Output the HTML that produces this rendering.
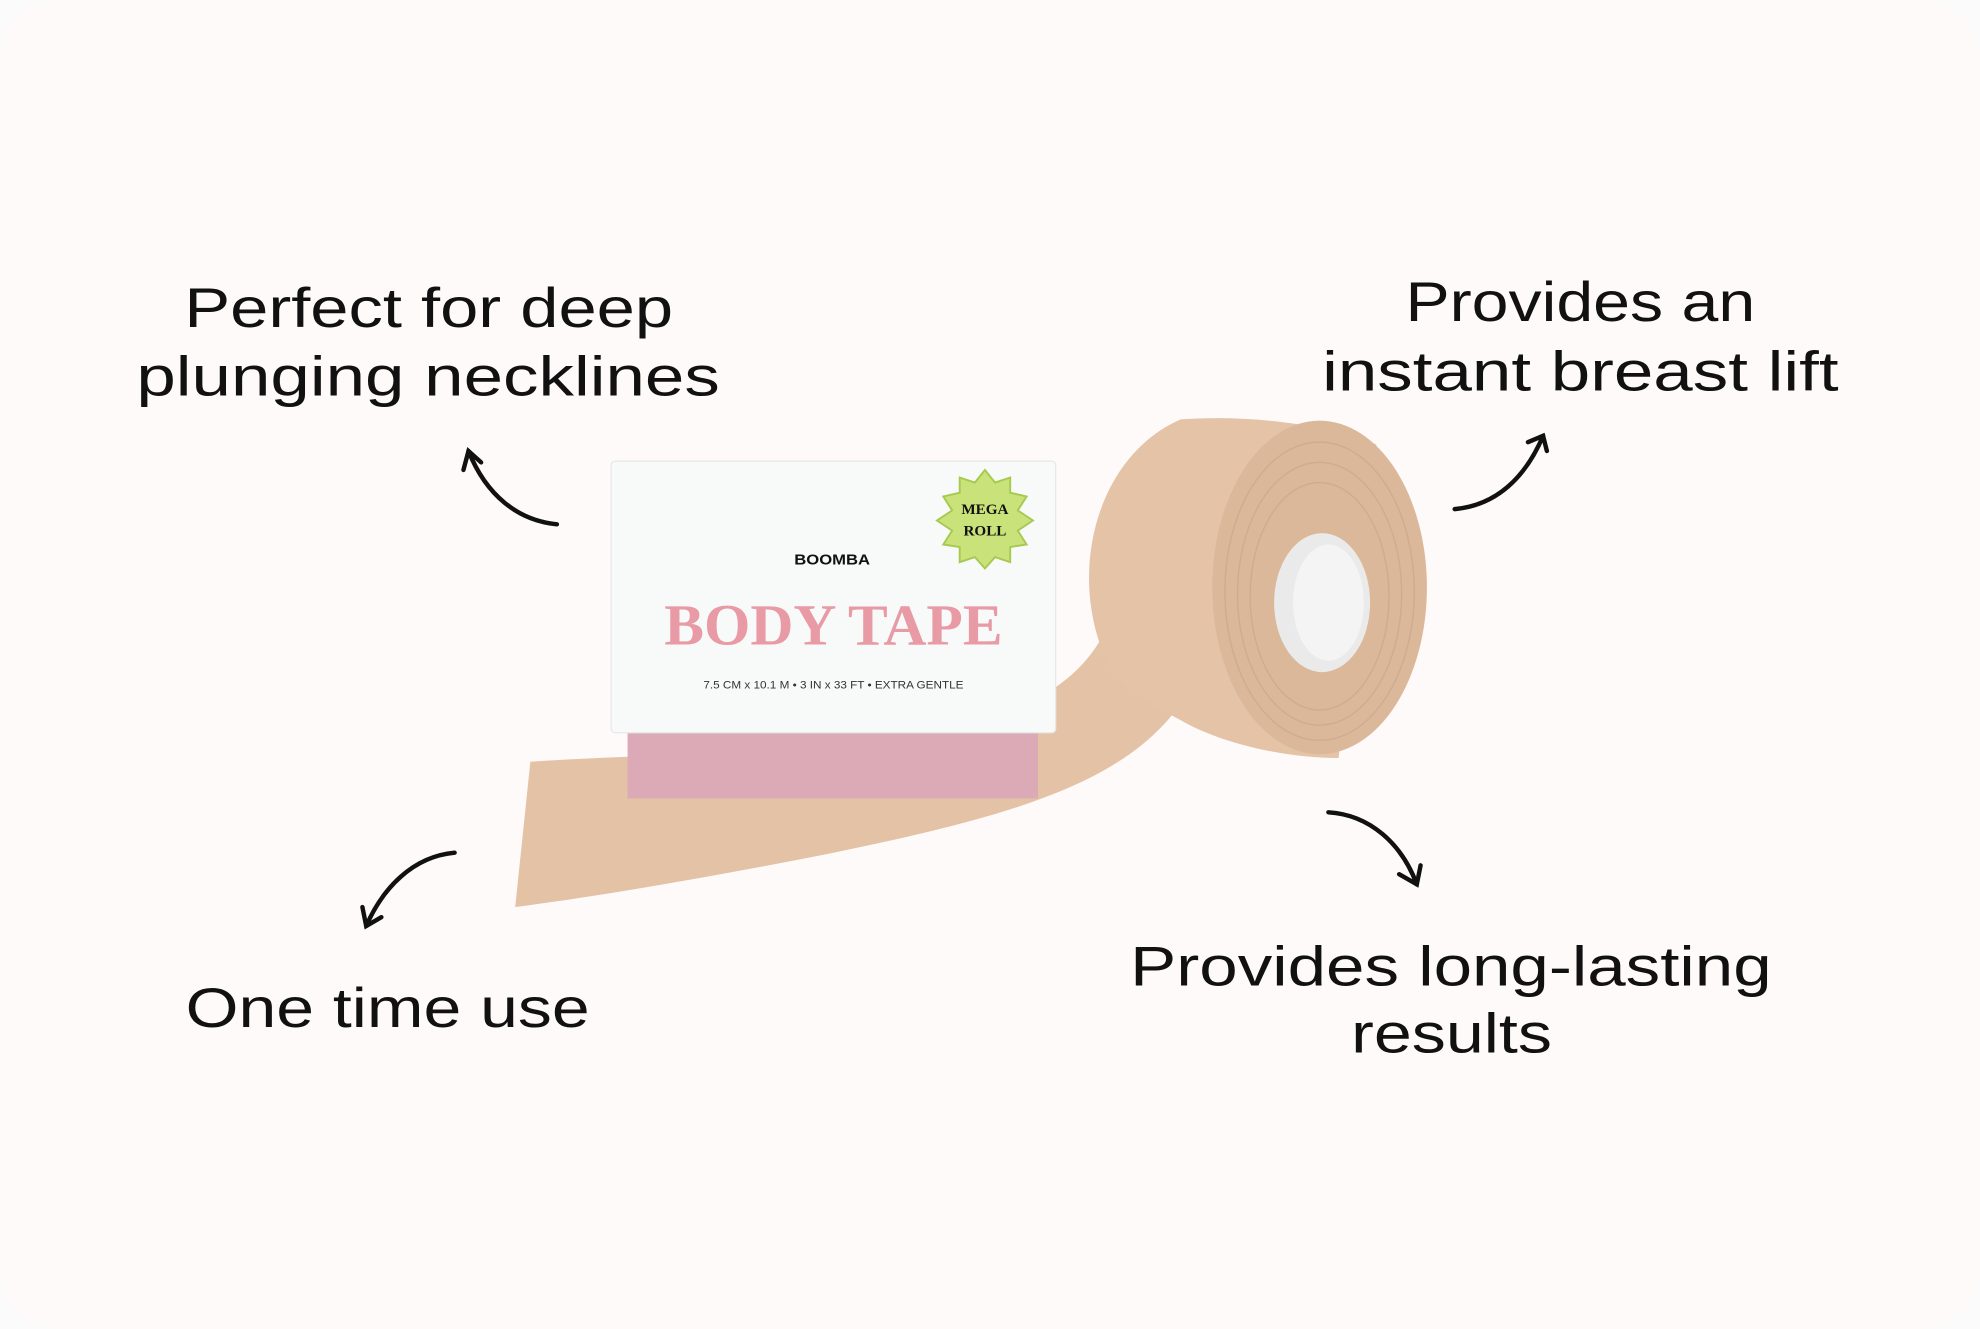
<!DOCTYPE html>
<html><head><meta charset="utf-8"><style>
html,body{margin:0;padding:0;background:#fbfbfb;}
svg{display:block}
</style></head><body>
<svg width="1980" height="1329" viewBox="0 0 1568 1052" preserveAspectRatio="none" xmlns="http://www.w3.org/2000/svg">
<rect x="0" y="0" width="1568" height="1052" fill="#fbfbfb"/>
<rect x="0" y="0" width="1568" height="1052" rx="48" fill="#fefaf9"/>
<g font-family="Liberation Sans, sans-serif" font-size="44" fill="#111" text-anchor="start">
<text x="146" y="259" textLength="387" lengthAdjust="spacingAndGlyphs">Perfect for deep</text>
<text x="108" y="313" textLength="462" lengthAdjust="spacingAndGlyphs">plunging necklines</text>
<text x="1113" y="254" textLength="277" lengthAdjust="spacingAndGlyphs">Provides an</text>
<text x="1047" y="309" textLength="409" lengthAdjust="spacingAndGlyphs">instant breast lift</text>
<text x="147" y="813" textLength="320" lengthAdjust="spacingAndGlyphs">One time use</text>
<text x="895" y="780" textLength="508" lengthAdjust="spacingAndGlyphs">Provides long-lasting</text>
<text x="1070" y="833" textLength="159" lengthAdjust="spacingAndGlyphs">results</text>
</g>
<g fill="none" stroke="#111" stroke-width="3.5" stroke-linecap="round">
<path d="M441,415 C410,412 385,392 371,357"/><path d="M367,372 L371,357 L381,366"/>
<path d="M1152,403 C1185,400 1208,378 1222,345"/><path d="M1210,350 L1222,345 L1225,357"/>
<path d="M360,675 C327,678 303,703 290,733"/><path d="M287,718 L290,733 L302,726"/>
<path d="M1052,643 C1085,645 1110,668 1122,700"/><path d="M1108,692 L1122,700 L1125,685"/>
</g>
<!-- tape strip -->
<path d="M420,603 C600,590 820,610 875,500 L955,520 C920,610 830,640 660,675 C560,695 470,710 408,718 Z" fill="#e3c2a6"/>
<!-- roll body -->
<path d="M875,520 C845,450 870,360 935,332 C990,328 1050,336 1090,352 L1060,600 C1010,600 960,585 935,570 C905,555 885,540 875,520 Z" fill="#e4c3a7"/>
<ellipse cx="1045" cy="465" rx="85" ry="132" fill="#dcb89b"/>
<g fill="none" stroke="#cfa98b" stroke-width="1.2" opacity="0.8">
<ellipse cx="1045" cy="468" rx="75" ry="118"/>
<ellipse cx="1045" cy="470" rx="65" ry="104"/>
<ellipse cx="1045" cy="472" rx="55" ry="90"/>
</g>
<ellipse cx="1047" cy="477" rx="38" ry="55" fill="#eaeaea"/>
<ellipse cx="1052" cy="477" rx="28" ry="46" fill="#f4f4f4"/>
<!-- box -->
<rect x="497" y="570" width="325" height="62" fill="#dcaab7"/>
<rect x="484" y="365" width="352" height="215" rx="3" fill="#f8f9f9" stroke="#e8e8e8"/>
<polygon points="780,372 788,382 800,378 800,390 813,393 806,404 818,412 806,420 813,431 800,433 800,445 788,441 780,450 772,441 760,445 760,433 747,431 754,420 742,412 754,404 747,393 760,390 760,378 772,382" fill="#c9e27a" stroke="#a6c94f" stroke-width="1.5"/>
<text x="780" y="407" font-family="Liberation Serif, serif" font-weight="bold" font-size="12" text-anchor="middle" fill="#111">MEGA</text>
<text x="780" y="424" font-family="Liberation Serif, serif" font-weight="bold" font-size="12" text-anchor="middle" fill="#111">ROLL</text>
<text x="659" y="447" font-family="Liberation Sans, sans-serif" font-weight="bold" font-size="12" text-anchor="middle" fill="#111" textLength="60" lengthAdjust="spacingAndGlyphs">BOOMBA</text>
<text x="660" y="510" font-family="Liberation Serif, serif" font-weight="bold" font-size="46" text-anchor="middle" fill="#e89aa5" textLength="268" lengthAdjust="spacingAndGlyphs">BODY TAPE</text>
<text x="660" y="545" font-family="Liberation Sans, sans-serif" font-size="8.5" text-anchor="middle" fill="#333" textLength="206" lengthAdjust="spacingAndGlyphs">7.5 CM x 10.1 M  •  3 IN x 33 FT  •  EXTRA GENTLE</text>
</svg>
</body></html>
